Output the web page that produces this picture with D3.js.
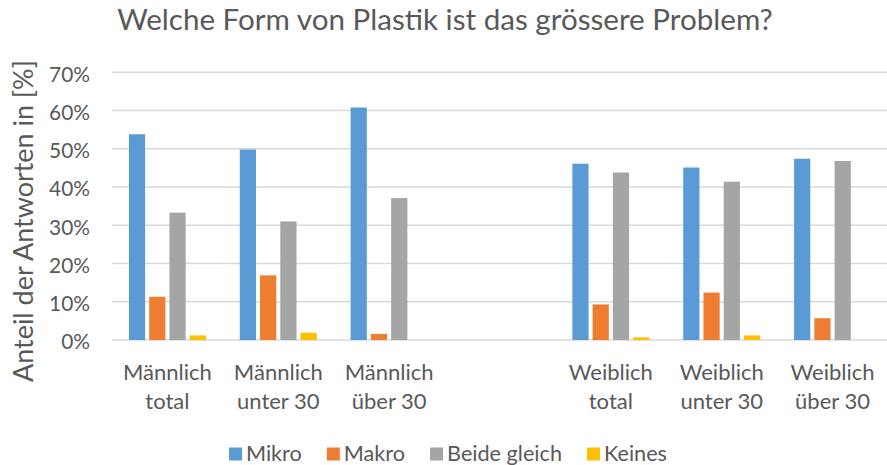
<!DOCTYPE html>
<html>
<head>
<meta charset="utf-8">
<script src="https://cdn.jsdelivr.net/npm/d3@7/dist/d3.min.js"></script>
<style>
  html, body { margin: 0; padding: 0; background: #fff; }
  svg { display: block; }
  text { font-family: Lato, "Open Sans", sans-serif; fill: #595959; }
</style>
</head>
<body>
<svg id="chart" width="887" height="465"></svg>
<script>
// ---- data ----
const categories = [
  ["Männlich", "total"],
  ["Männlich", "unter 30"],
  ["Männlich", "über 30"],
  ["", ""],
  ["Weiblich", "total"],
  ["Weiblich", "unter 30"],
  ["Weiblich", "über 30"]
];
const seriesNames = ["Mikro", "Makro", "Beide gleich", "Keines"];
const seriesColors = ["#5B9BD5", "#ED7D31", "#A5A5A5", "#FFC000"];
const mikro       = [0.538, 0.498, 0.608, null, 0.461, 0.451, 0.474];
const makro       = [0.113, 0.169, 0.016, null, 0.093, 0.124, 0.057];
const beideGleich = [0.333, 0.310, 0.371, null, 0.438, 0.414, 0.468];
const keines      = [0.012, 0.019, 0.000, null, 0.007, 0.012, 0.000];
const yTicks = [0, 0.1, 0.2, 0.3, 0.4, 0.5, 0.6, 0.7];
const titleText = "Welche Form von Plastik ist das grössere Problem?";
const yLabelText = "Anteil der Antworten in [%]";

const seriesValues = [mikro, makro, beideGleich, keines];

const svg = d3.select("#chart");

// helper: fit font size so that a reference string reaches a target width
function fitSize(str, targetWidth, base) {
  const t = svg.append("text").style("font-size", base + "px").text(str);
  const w = t.node().getComputedTextLength();
  t.remove();
  return base * targetWidth / w;
}
const fsTick = fitSize("70%", 41, 20);
const fsCat = fitSize("Männlich", 89, 20);
const fsLegend = fitSize("Beide gleich", 115, 20);
const fsTitle = fitSize(titleText, 656, 20);
const fsYLabel = fitSize(yLabelText, 322, 20);

// ---- scales ----
const catKeys = categories.map((d, i) => "c" + i);
const x0 = d3.scaleBand().domain(catKeys).range([112, 888]).paddingInner(0).paddingOuter(0);
const groupW = 77;
const x1 = d3.scaleBand().domain(seriesNames).range([0, groupW]).paddingInner(0.2).paddingOuter(0);
const y = d3.scaleLinear().domain([0, 0.7]).range([340, 72.3]);

// ---- gridlines ----
svg.append("g").selectAll("line").data(yTicks).join("line")
  .attr("x1", 112).attr("x2", 888)
  .attr("y1", d => y(d)).attr("y2", d => y(d))
  .attr("stroke", "#D9D9D9").attr("stroke-width", 1.6);

// ---- y axis labels ----
const yAxis = d3.axisLeft(y).tickValues(yTicks).tickFormat(d3.format(".0%")).tickSize(0).tickPadding(0);
const gy = svg.append("g").attr("transform", "translate(90,0)").call(yAxis);
gy.select(".domain").remove();
gy.selectAll("text").attr("fill", "#595959").style("font-size", fsTick + "px")
  .style("font-family", "Lato, 'Open Sans', sans-serif").attr("dy", "0.42em");

// ---- bars ----
const groups = svg.append("g").selectAll("g").data(categories).join("g")
  .attr("transform", (d, i) => `translate(${x0(catKeys[i]) + (x0.bandwidth() - groupW) / 2},0)`);
groups.selectAll("rect")
  .data((d, i) => seriesNames.map((s, k) => ({ s, k, v: seriesValues[k][i] })).filter(e => e.v != null && e.v > 0))
  .join("rect")
  .attr("x", e => x1(e.s))
  .attr("width", x1.bandwidth())
  .attr("y", e => y(e.v))
  .attr("height", e => y(0) - y(e.v))
  .attr("fill", e => seriesColors[e.k]);

// ---- category labels ----
const catG = svg.append("g");
categories.forEach((c, i) => {
  const cx = x0(catKeys[i]) + x0.bandwidth() / 2;
  const t = catG.append("text").attr("text-anchor", "middle").style("font-size", fsCat + "px");
  t.append("tspan").attr("x", cx).attr("y", 379.5).text(c[0]);
  t.append("tspan").attr("x", cx).attr("y", 408.5).text(c[1]);
});

// ---- title ----
svg.append("text").attr("x", 445).attr("y", 29.5).attr("text-anchor", "middle")
  .style("font-size", fsTitle + "px").text(titleText);

// ---- y axis title ----
svg.append("text").attr("transform", "translate(33,221) rotate(-90)")
  .attr("text-anchor", "middle").style("font-size", fsYLabel + "px").text(yLabelText);

// ---- legend ----
const legend = svg.append("g");
const sq = 13, gapText = 4, gapItem = 25;
let items = seriesNames.map((name, k) => {
  const t = legend.append("text").style("font-size", fsLegend + "px").attr("y", 461).text(name);
  return { name, k, t, w: t.node().getComputedTextLength() };
});
const totalW = d3.sum(items, it => sq + gapText + it.w) + gapItem * (items.length - 1);
let cx = 448 - totalW / 2;
items.forEach(it => {
  legend.append("rect").attr("x", cx).attr("y", 447.5).attr("width", sq).attr("height", sq)
    .attr("fill", seriesColors[it.k]);
  it.t.attr("x", cx + sq + gapText);
  cx += sq + gapText + it.w + gapItem;
});
</script>
</body>
</html>
